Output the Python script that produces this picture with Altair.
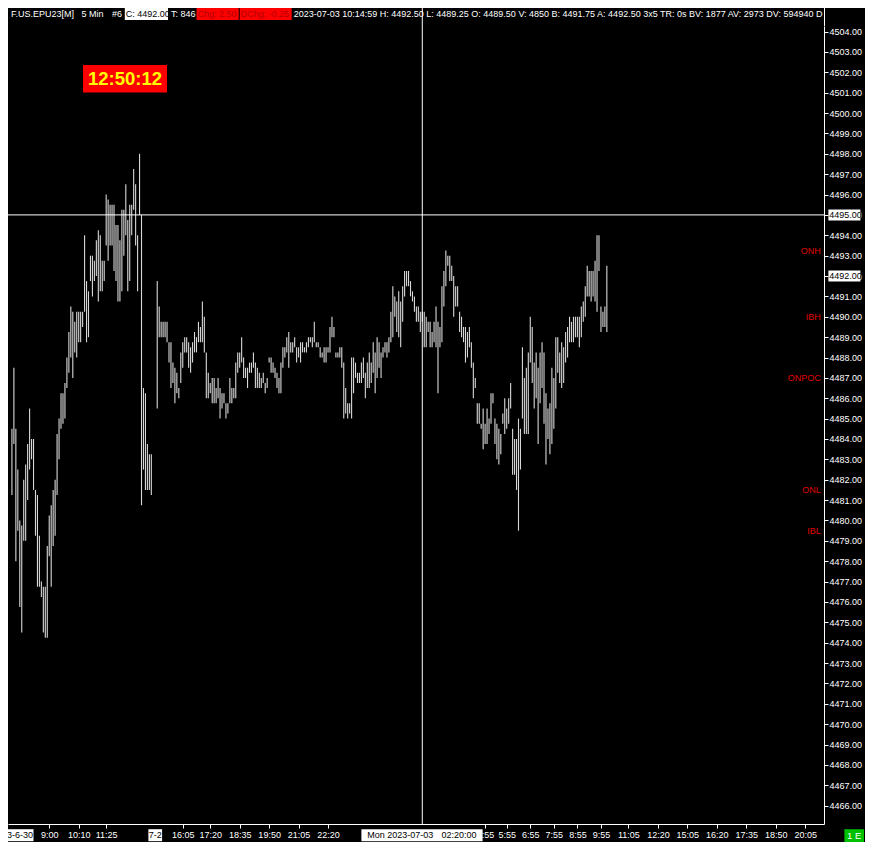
import altair as alt
import pandas as pd

# ---------------- data ----------------
# 5-minute bars, session 1 (Fri 6-30) and session 2 (Sun 7-2 evening -> Mon 7-03)
session1_high = [4484.5, 4487.5, 4484.5, 4482.5, 4480.0, 4479.75, 4482.0, 4482.75, 4483.75, 4485.5,
                 4484.0, 4484.0, 4481.5, 4481.25, 4479.25, 4477.0, 4476.75, 4476.75, 4478.75, 4480.25,
                 4480.75, 4481.5, 4482.0, 4484.25, 4485.0, 4486.25, 4486.25, 4486.75, 4488.0, 4489.25,
                 4490.5, 4490.25, 4489.75, 4490.25, 4490.25, 4490.25, 4490.25, 4494.0, 4491.75, 4491.25,
                 4493.0, 4493.0, 4492.75, 4493.75, 4494.25, 4494.0, 4492.75, 4492.75, 4496.0, 4495.75,
                 4495.5, 4495.5, 4495.5, 4494.5, 4494.5, 4493.75, 4495.25, 4495.25, 4496.5, 4494.75,
                 4495.5, 4495.5, 4497.25, 4496.5, 4494.0, 4498.0, 4495.0, 4486.5, 4486.25, 4483.75,
                 4483.25, 4483.25]
session1_low = [4481.25, 4483.75, 4478.0, 4479.5, 4475.75, 4474.5, 4479.0, 4479.0, 4481.0, 4482.5,
                4483.0, 4481.5, 4479.25, 4476.75, 4476.75, 4476.25, 4474.5, 4474.25, 4474.25, 4478.25,
                4476.75, 4478.75, 4479.25, 4481.25, 4483.0, 4484.5, 4484.75, 4485.0, 4486.5, 4487.25,
                4488.0, 4487.0, 4488.25, 4488.0, 4488.75, 4488.75, 4489.5, 4490.25, 4488.75, 4489.0,
                4491.75, 4491.0, 4491.75, 4492.0, 4490.75, 4491.25, 4491.25, 4491.75, 4493.5, 4492.75,
                4493.5, 4493.5, 4492.25, 4491.75, 4490.75, 4490.75, 4491.25, 4493.0, 4494.0, 4491.25,
                4491.75, 4494.0, 4495.25, 4493.5, 4491.25, 4495.0, 4480.75, 4482.5, 4481.5, 4481.5,
                4481.5, 4481.25]

session2_high = [
    4491.75, 4490.5, 4489.75, 4489.75, 4489.75, 4489.75, 4488.75, 4488.75, 4487.75, 4487.5,
    4487.25, 4486.5, 4488.25, 4488.75, 4489.0, 4489.0, 4488.75, 4488.5, 4488.75, 4489.25,
    4489.0, 4489.75, 4489.5, 4490.75, 4490.0, 4488.25, 4487.25, 4486.75, 4487.0, 4487.0,
    4486.5, 4487.0,
    4486.5, 4486.25, 4486.25, 4485.75, 4485.75, 4487.0, 4486.5, 4486.5, 4487.75, 4488.25,
    4488.25, 4489.0, 4488.0, 4487.5, 4487.5, 4487.75, 4487.75, 4488.25, 4487.75, 4487.5,
    4487.25, 4487.0, 4487.25, 4486.75, 4487.0, 4488.0, 4488.0, 4487.75, 4487.5, 4487.25,
    4487.0, 4487.75, 4488.5, 4488.5, 4489.0, 4489.25, 4488.75, 4488.75, 4489.0, 4488.5,
    4488.5, 4488.75, 4488.75, 4488.5, 4488.75, 4489.0, 4489.0, 4489.0, 4489.75, 4488.75,
    4488.75, 4488.5, 4488.25, 4488.5, 4488.5, 4488.5, 4489.5, 4490.0, 4489.5, 4488.25,
    4488.25, 4488.5, 4488.5, 4487.75, 4486.5, 4485.75, 4485.75, 4488.0, 4488.0, 4487.75,
    4487.25, 4487.25, 4487.75, 4488.0, 4487.25, 4487.75, 4488.25, 4487.75, 4488.75, 4488.25,
    4489.0, 4488.75, 4488.25, 4488.5, 4488.75, 4488.75, 4489.0, 4490.25, 4491.5, 4491.0,
    4490.75, 4491.25, 4490.75, 4491.5, 4492.25, 4492.25, 4492.25, 4491.75, 4491.25, 4491.0,
    4490.5, 4490.5, 4490.25, 4490.25, 4490.25, 4490.0, 4489.75, 4489.75, 4489.25,
    4489.75, 4490.5, 4489.75, 4489.5, 4491.5, 4492.25, 4493.25, 4493.0, 4493.0, 4492.5,
    4492.0, 4491.5, 4491.5, 4490.25, 4490.0, 4489.5, 4489.5, 4489.25, 4489.5, 4488.75,
    4487.75, 4487.0, 4485.75, 4485.75, 4484.75, 4485.5, 4484.75, 4485.5, 4485.0, 4486.25,
    4486.25, 4485.0, 4484.75, 4484.5, 4484.25, 4485.25, 4486.0, 4485.5, 4486.0, 4486.75,
    4484.5, 4484.0, 4484.0, 4485.0, 4484.5, 4488.5, 4487.0, 4487.5, 4488.25, 4490.0,
    4489.5, 4487.75, 4488.25, 4487.5, 4488.25, 4488.75, 4488.25, 4486.25, 4485.5, 4485.75,
    4487.5, 4487.0, 4489.0, 4489.0, 4488.25, 4488.75, 4488.5, 4489.25, 4489.5, 4490.0,
    4489.75, 4490.0, 4490.0, 4490.0, 4490.0, 4490.5, 4490.75, 4491.5, 4492.5, 4492.25,
    4492.25, 4492.25, 4492.75, 4494.0, 4494.0, 4490.5, 4490.25, 4490.5, 4492.5]
session2_low = [
    4485.5, 4489.0, 4489.0, 4489.0, 4489.0, 4488.75, 4487.75, 4486.5, 4486.75, 4485.75,
    4486.25, 4486.0, 4486.75, 4487.5, 4488.25, 4488.25, 4487.5, 4487.25, 4487.75, 4488.25,
    4488.25, 4488.75, 4488.75, 4488.75, 4488.25, 4486.0, 4486.0, 4486.25, 4485.75, 4485.75,
    4485.75, 4486.0,
    4485.0, 4485.5, 4485.75, 4485.0, 4485.25, 4485.75, 4485.75, 4486.0, 4486.0, 4487.25,
    4487.5, 4487.75, 4487.0, 4487.0, 4486.5, 4487.25, 4487.25, 4487.5, 4486.5, 4486.5,
    4486.5, 4486.5, 4486.75, 4486.25, 4486.5, 4487.75, 4487.25, 4487.25, 4487.0, 4486.5,
    4486.25, 4486.25, 4487.5, 4488.0, 4488.25, 4487.5, 4488.25, 4488.25, 4488.5, 4487.75,
    4488.0, 4487.75, 4488.25, 4488.25, 4488.25, 4488.5, 4488.75, 4488.5, 4488.75, 4488.5,
    4488.5, 4488.0, 4488.0, 4487.75, 4487.75, 4488.25, 4488.25, 4489.0, 4489.0, 4488.0,
    4488.0, 4488.0, 4487.5, 4485.0, 4485.25, 4485.0, 4485.25, 4485.0, 4486.25, 4487.0,
    4486.75, 4486.75, 4486.75, 4487.0, 4486.0, 4486.5, 4486.5, 4486.75, 4487.25, 4486.25,
    4487.0, 4487.5, 4487.0, 4488.0, 4488.25, 4488.0, 4488.25, 4488.75, 4489.0, 4490.0,
    4489.25, 4489.0, 4488.5, 4489.75, 4491.0, 4491.5, 4491.5, 4491.0, 4490.75, 4490.25,
    4489.75, 4489.75, 4489.25, 4489.75, 4488.5, 4488.5, 4489.25, 4488.5, 4488.5,
    4488.75, 4488.5, 4486.25, 4488.5, 4488.75, 4490.5, 4491.5, 4492.5, 4491.75, 4491.75,
    4490.0, 4490.5, 4490.5, 4489.25, 4489.0, 4488.75, 4487.75, 4488.0, 4488.5, 4487.5,
    4486.0, 4486.5, 4484.75, 4484.75, 4484.5, 4483.5, 4483.75, 4483.75, 4484.25, 4484.75,
    4485.75, 4483.75, 4483.0, 4482.75, 4483.25, 4484.75, 4484.25, 4484.5, 4484.75, 4485.5,
    4482.25, 4482.25, 4481.5, 4479.5, 4482.5, 4485.0, 4484.25, 4484.25, 4484.25, 4487.75,
    4486.75, 4485.5, 4486.0, 4483.75, 4485.75, 4486.5, 4484.75, 4482.75, 4484.0, 4483.25,
    4483.75, 4484.5, 4485.5, 4487.25, 4486.75, 4486.5, 4486.75, 4487.75, 4488.0, 4488.75,
    4488.75, 4488.75, 4489.0, 4489.0, 4488.5, 4489.0, 4489.75, 4490.0, 4491.0, 4491.0,
    4490.75, 4491.0, 4490.75, 4490.25, 4492.25, 4489.25, 4489.5, 4489.5, 4489.25]

SESSION1_START = 0     # bar slot of first bar of session 1
SESSION2_START = 74    # bar slot of first bar of session 2

price_ticks = list(range(4466, 4505))
time_tick_slots = [19, 34, 48, 87, 101, 116, 131, 146, 161,
                   241, 252, 264, 276, 288, 300, 314, 329, 344, 359, 374, 389, 404]
time_tick_labels = ["9:00", "10:10", "11:25", "16:05", "17:20", "18:35", "19:50", "21:05", "22:20",
                    "4:55", "5:55", "6:55", "7:55", "8:55", "9:55", "11:05", "12:20", "15:05",
                    "16:20", "17:35", "18:50", "20:05"]

level_names = ["ONH", "IBH", "ONPOC", "ONL", "IBL"]
level_prices = [4493.25, 4490.0, 4487.0, 4481.5, 4479.5]

crosshair_price = 4495.0
crosshair_slot = 209
last_price = 4492.0

header_symbol = ["F.US.EPU23[M]", "5 Min", "#6"]
header_close = "C: 4492.00"
header_trades = "T: 846"
header_chg = "Chg: 2.50"
header_dchg = "DChg: -0.25"
header_rest = ("2023-07-03 10:14:59 H: 4492.50 L: 4489.25 O: 4489.50 V: 4850 B: 4491.75 "
               "A: 4492.50 3x5 TR: 0s BV: 1877 AV: 2973 DV: 594940 D")
timer_text = "12:50:12"
date_labels = ["3-6-30", "7-2", "Mon 2023-07-03", "02:20:00"]

# ---------------- layout ----------------
W, H = 816, 798
FONT = "Liberation Sans"
BAR = "#d8d8d8"
RED_TXT = "#e00000"

x_scale = alt.Scale(domain=[-2, 413.6], nice=False, zero=False)
y_scale = alt.Scale(domain=[4465.102, 4504.272], nice=False, zero=False)

bars_df = pd.DataFrame({
    "slot": [SESSION1_START + i for i in range(len(session1_high))]
            + [SESSION2_START + i for i in range(len(session2_high))],
    "high": session1_high + session2_high,
    "low": session1_low + session2_low,
})

label_expr = ("[" + ",".join("'" + s + "'" for s in time_tick_labels) + "][indexof(["
              + ",".join(str(v) for v in time_tick_slots) + "], datum.value)]")

x_axis = alt.Axis(values=time_tick_slots, labelExpr=label_expr, title=None, grid=False,
                  domainColor="white", domainWidth=1, tickColor="white", tickSize=4,
                  labelColor="white", labelFontSize=9, labelFont=FONT, labelPadding=2,
                  labelOverlap=False, labelFlush=False, labelBound=False)
y_axis = alt.Axis(orient="right", values=price_ticks, format=".2f", title=None, grid=False,
                  domainColor="white", domainWidth=1, tickColor="white", tickSize=4,
                  labelColor="white", labelFontSize=9, labelFont=FONT, labelPadding=1,
                  labelOverlap=False, labelFlush=False, labelBound=False)

XQ = lambda f: alt.X(f, scale=x_scale, axis=x_axis)
YQ = lambda f: alt.Y(f, scale=y_scale, axis=y_axis)

bars = alt.Chart(bars_df).mark_rule(color=BAR, strokeWidth=1.1).encode(
    x=XQ("slot:Q"), y=YQ("low:Q"), y2="high:Q")

one = pd.DataFrame({"k": [0]})

hline = alt.Chart(pd.DataFrame({"p": [crosshair_price]})).mark_rule(color="white", strokeWidth=1).encode(
    y=YQ("p:Q"), x=alt.value(0), x2=alt.value(W))
vline = alt.Chart(pd.DataFrame({"s": [crosshair_slot]})).mark_rule(color="white", strokeWidth=1).encode(
    x=XQ("s:Q"), y=alt.value(-18), y2=alt.value(H))
axis_top = alt.Chart(one).mark_rule(color="white", strokeWidth=1).encode(
    x=alt.value(W + 0.5), y=alt.value(-18), y2=alt.value(0))


def box(x1, x2, y1, y2, color):
    return alt.Chart(one).mark_rect(color=color).encode(
        x=alt.value(x1), x2=alt.value(x2), y=alt.value(y1), y2=alt.value(y2))


def label(text, x, y, color="white", size=9, align="left", weight="normal", limit=0):
    kw = dict(align=align, baseline="middle", color=color, fontSize=size, font=FONT, fontWeight=weight)
    if limit:
        kw["limit"] = limit
    return alt.Chart(one).mark_text(**kw).encode(
        x=alt.value(x), y=alt.value(y), text=alt.value(text))


HY = -11.8
hsize = 9
header = [
    label(header_symbol[0], 2.9, HY, size=hsize),
    label(header_symbol[1], 73.6, HY, size=hsize),
    label(header_symbol[2], 104, HY, size=hsize),
    box(116.8, 160, -18, -6, "white"),
    label(header_close, 117.8, HY, color="black", size=hsize),
    label(header_trades, 163, HY, size=hsize),
    box(188.5, 230.7, -18, -6, "#ff0000"),
    label(header_chg, 189.5, HY, color="#b00000", size=hsize),
    box(231.7, 283.7, -18, -6, "#ff0000"),
    label(header_dchg, 232.7, HY, color="#b00000", size=hsize),
    label(header_rest, 285.7, HY, size=hsize, limit=W - 286),
]

timer = [
    box(75, 159, 39, 66.5, "#ff0000"),
    label(timer_text, 117, 53, color="#ffff00", size=18.5, align="center", weight="bold"),
]

levels = alt.Chart(pd.DataFrame({"name": level_names, "p": level_prices})).mark_text(
    align="right", baseline="middle", color=RED_TXT, fontSize=9, font=FONT).encode(
    x=alt.value(812.8), y=YQ("p:Q"), text="name:N")

hl_df = pd.DataFrame({"p": [crosshair_price, last_price]})
hl_box = alt.Chart(hl_df).mark_tick(orient="horizontal", color="white", opacity=1,
                                    thickness=11, size=32).encode(
    x=alt.value(836.4), y=YQ("p:Q"))
hl_txt = alt.Chart(hl_df).mark_text(align="left", baseline="middle", color="black", fontSize=9,
                                    font=FONT).encode(
    x=alt.value(821.2), y=YQ("p:Q"), text=alt.Text("p:Q", format=".2f"))

BY1, BY2, BYC = 803.2, 815.2, 809.2
bottom = [
    box(0, 25.5, BY1, BY2, "white"),
    label(date_labels[0], 25, BYC, color="black", align="right"),
    box(140.4, 154.1, BY1, BY2, "white"),
    label(date_labels[1], 147.3, BYC, color="black", align="center"),
    box(353.4, 474.6, BY1, BY2, "white"),
    label(date_labels[2], 359.3, BYC, color="black"),
    label(date_labels[3], 433.5, BYC, color="black"),
    box(836.4, 856.0, BY1, BY1 + 13, "#00c000"),
    label("1 E", 846.2, BYC + 0.5, color="white", size=9.5, align="center"),
]

chart = alt.layer(
    bars, hline, vline, axis_top, levels, hl_box, hl_txt, *header, *timer, *bottom
).properties(
    width=W, height=H,
    padding={"left": 0, "top": 18, "right": 41, "bottom": 18},
    autosize=alt.AutoSizeParams(type="none"),
    background="#000000",
).configure_view(strokeWidth=0)

chart.save("out.html", embed_options={"renderer": "svg", "actions": False})
